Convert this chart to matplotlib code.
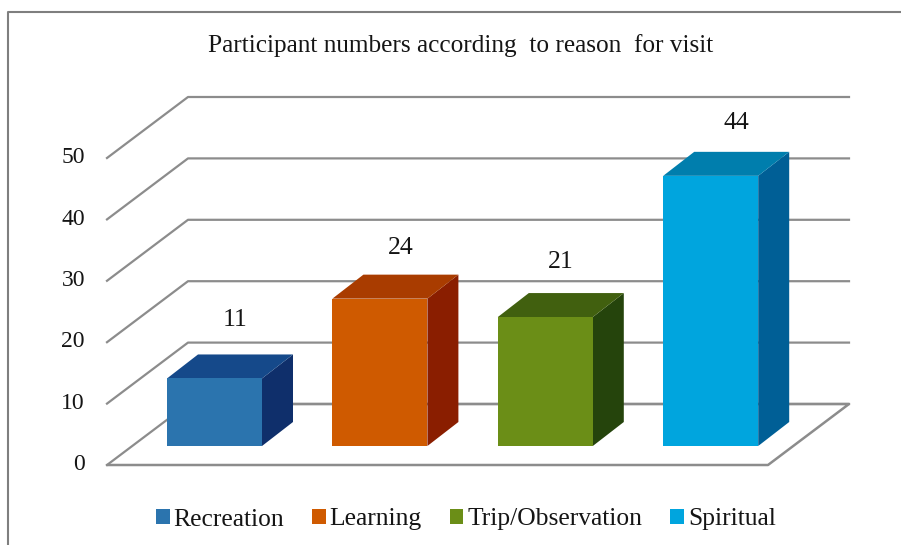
import matplotlib
matplotlib.use("Agg")
import matplotlib.pyplot as plt
from matplotlib.patches import Polygon, Patch

categories = ["Recreation", "Learning", "Trip/Observation", "Spiritual"]
values = [11, 24, 21, 44]
yticks = [0, 10, 20, 30, 40, 50]
front_colors = ["#2b74ae", "#cf5a00", "#6b8e17", "#00a5de"]
top_colors = ["#15498a", "#a93c00", "#41600f", "#007ead"]
side_colors = ["#0f2f6b", "#8a1e00", "#25440c", "#005f96"]

plt.rcParams["font.family"] = ["Liberation Serif", "DejaVu Serif"]

W, H = 901, 545
PITCH = 165.4       # px between bars
UNIT = 6.14         # px per value unit
X0 = 214.5          # px centre of first bar
Y0 = 465            # px of value 0 on front edge

fig = plt.figure(figsize=(W / 100, H / 100), dpi=100)
ax = fig.add_axes([0, 0, 1, 1])
ax.set_xlim(-X0 / PITCH, (W - X0) / PITCH)
ax.set_ylim(-(H - Y0) / UNIT, Y0 / UNIT)
ax.axis("off")

dx = 81 / PITCH     # depth of the floor
dy = 61 / UNIT
x_left = (107 - X0) / PITCH
x_right = (768 - X0) / PITCH
grid = "#8c8c8c"

# floor and walls
ax.plot([x_left, x_right, x_right + dx, x_left + dx + 0.0],
        [0, 0, dy, dy], color=grid, lw=1.8, zorder=1, solid_capstyle="round")
for t in yticks:
    ax.plot([x_left, x_left + dx, x_right + dx], [t, t + dy, t + dy],
            color=grid, lw=1.6, zorder=1)
    ax.text(x_left - 22 / PITCH, t + 0.05, str(t), ha="right", va="center", fontsize=17, color="#151515")

# bars
half = 47.5 / PITCH
bar_dx = 31 / PITCH
bar_dy = 24 / UNIT
base = 19 / UNIT
label_dx = [21, 21, 15, 26]
label_dy = [34, 27, 31, 29]
for i, v in enumerate(values):
    l, r = i - half, i + half
    b, t = base, base + v
    ax.add_patch(Polygon([(r, b), (r + bar_dx, b + bar_dy), (r + bar_dx, t + bar_dy), (r, t)],
                         fc=side_colors[i], ec="none", zorder=3))
    ax.add_patch(Polygon([(l, t), (r, t), (r + bar_dx, t + bar_dy), (l + bar_dx, t + bar_dy)],
                         fc=top_colors[i], ec="none", zorder=3))
    ax.add_patch(Polygon([(l, b), (r, b), (r, t), (l, t)],
                         fc=front_colors[i], ec="none", zorder=4))
    ax.text(i + label_dx[i] / PITCH, t + bar_dy + label_dy[i] / UNIT, str(v),
            ha="center", va="center", fontsize=18.5, color="#151515")

fig.text(461 / W, 1 - 46 / H, "Participant numbers according  to reason  for visit",
         ha="center", va="center", fontsize=18.2, color="#151515")

handles = [Patch(fc=c, ec="none") for c in front_colors]
fig.legend(handles, categories, ncol=4, loc="center", bbox_to_anchor=(466 / W, 1 - 519.5 / H),
           frameon=False, fontsize=18.4, handlelength=0.52, handleheight=0.52,
           handletextpad=0.16, columnspacing=1.1, labelcolor="#151515")

# chart border, runs off the picture on the right and at the bottom
fig.add_artist(plt.Line2D([8 / W, 8 / W, 1], [0, 1 - 12 / H, 1 - 12 / H],
                          color="#7f7f7f", lw=1.5))

fig.savefig("out.png", dpi=100)
